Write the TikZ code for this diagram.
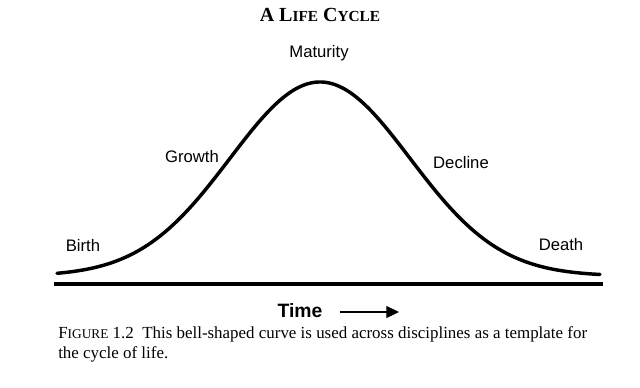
\documentclass[tikz,border=0pt]{standalone}
\usepackage{fontspec}
\setmainfont{Liberation Serif}
\setsansfont{Liberation Sans}
\usetikzlibrary{arrows.meta,positioning}

\begin{document}
\begin{tikzpicture}[
  x=0.75pt, y=-0.75pt,
  >={Triangle[length=9.5pt,width=9pt]},
  stagelabel/.style={font=\sffamily\fontsize{12.5}{14}\selectfont, inner sep=0pt},
  bellline/.style={line width=2.6pt, line cap=round, line join=round},
  axisline/.style={line width=3pt},
  captext/.style={font=\fontsize{12.7}{14}\selectfont, inner sep=0pt, anchor=base west}
]
\useasboundingbox (0,0) rectangle (640,387);

% Title
\node[font=\bfseries\fontsize{15}{17}\selectfont] (title) at (320,15)
  {A L{\fontsize{11.5}{12}\selectfont IFE} C{\fontsize{11.5}{12}\selectfont YCLE}};

% Bell-shaped curve
\draw[bellline] plot[domain=57:600, samples=120, smooth]
  (\x, {276-194*exp(-0.5*((\x-320)/90)^2)});

% Time axis
\coordinate (axisL) at (54,284);
\coordinate (axisR) at (603,284);
\draw[axisline] (axisL) -- (axisR);

% Stage labels
\node[stagelabel] (birth) at (83,246) {Birth};
\node[stagelabel] (growth) at (192,157) {Growth};
\node[stagelabel] (maturity) at (319,53) {Maturity};
\node[stagelabel] (decline) at (461,163) {Decline};
\node[stagelabel] (death) at (561,245) {Death};

% Time arrow
\node[font=\sffamily\bfseries\fontsize{14.5}{16}\selectfont, inner sep=0pt] (time) at (300,311) {Time};
\coordinate (arrowend) at (399,312);
\draw[->, line width=0.8pt] ([xshift=13pt]time.east |- arrowend) -- (arrowend);

% Caption
\node[captext] (capA) at (58,338)
  {F{\fontsize{10}{10}\selectfont IGURE} 1.2\ \ This bell-shaped curve is used across disciplines as a template for};
\node[captext] (capB) at (58,358) {the cycle of life.};

\end{tikzpicture}
\end{document}
